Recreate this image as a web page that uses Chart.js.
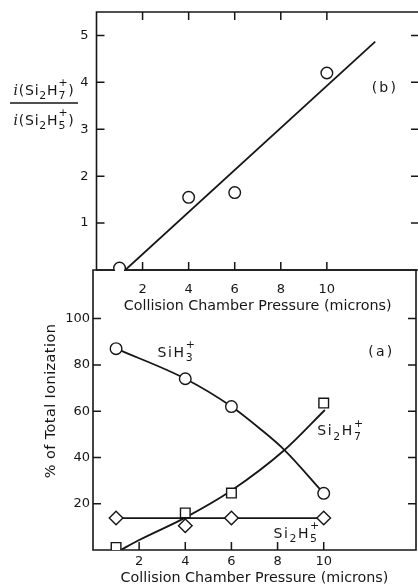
<!DOCTYPE html>
<html><head><meta charset="utf-8">
<script src="https://cdn.jsdelivr.net/npm/chart.js@4.4.0/dist/chart.umd.min.js"></script>
<style>
html,body{margin:0;padding:0;background:#fff;overflow:hidden;width:418px;height:588px;}
#wrap{position:relative;width:418px;height:588px;overflow:hidden;background:#fff;}
canvas{position:absolute;left:0;}
#cA{top:260px;}
#cB{top:0;}
</style></head><body>
<div id="wrap">
<canvas id="cA" width="432" height="328"></canvas>
<canvas id="cB" width="432" height="318"></canvas>
</div>
<script>
// ---------- data: panel (b) ----------
const pressureB = [1, 4, 6, 10];
const ratioB = [0.04, 1.55, 1.65, 4.2];
const fitLineX = [1.25, 12.1];
const fitLineY = [0, 4.87];
const yTickLabelsB = [1, 2, 3, 4, 5];

// ---------- data: panel (a) ----------
const pressureA = [1, 4, 6, 10];
const siH3 = [87, 74, 62, 24.5];
const si2H7 = [1.1, 16, 24.6, 63.5];
const si2H5 = [13.8, 10.5, 13.8, 13.8];
const siH3CurveX = [1, 4, 6, 7.2, 8.3, 10];
const siH3CurveY = [87, 74, 62, 52.7, 43.2, 24.5];
const si2H7CurveX = [1.2, 2, 4, 6, 8.3, 10.05];
const si2H7CurveY = [0, 4.3, 14, 25.7, 43.2, 60.5];
const si2H5LineX = [1, 10];
const si2H5LineY = [13.8, 13.8];
const yTickLabelsA = [20, 40, 60, 80, 100];

const xTickLabels = [2, 4, 6, 8, 10];

const INK = '#161616';
const FONT = '"DejaVu Sans", sans-serif';

function pts(xs, ys) { return xs.map((x, i) => ({x: x, y: ys[i]})); }

// draws chemical formula like Si2H7+ with stacked sub/sup
function drawFormula(ctx, x, y, parts, fs, spacing) {
  let cx = x;
  for (const p of parts) {
    ctx.letterSpacing = spacing + 'px';
    ctx.font = (p.italic ? 'italic ' : '') + fs + 'px ' + (p.italic ? '"DejaVu Serif", serif' : FONT);
    ctx.fillText(p.t, cx, y);
    cx += ctx.measureText(p.t).width;
    if (p.sub || p.sup) {
      ctx.letterSpacing = '0px';
      ctx.font = (fs * 0.78) + 'px ' + FONT;
      let w = 0;
      if (p.sub) { ctx.fillText(p.sub, cx, y + fs * 0.32); w = ctx.measureText(p.sub).width; }
      if (p.sup) { ctx.fillText(p.sup, cx, y - fs * 0.62); w = Math.max(w, ctx.measureText(p.sup).width); }
      cx += w + spacing;
    }
  }
  ctx.letterSpacing = '0px';
  return cx - x;
}
function formulaWidth(ctx, parts, fs, spacing) {
  ctx.save(); ctx.globalAlpha = 0;
  const w = drawFormula(ctx, -1000, -1000, parts, fs, spacing);
  ctx.restore();
  return w;
}

// frame and inward tick marks
const frameTicks = {
  id: 'frameTicks',
  beforeDatasetsDraw(chart, args, o) {
    const {ctx, chartArea: a, scales} = chart;
    const x = scales.x, y = scales.y;
    const len = 8;
    ctx.save();
    ctx.strokeStyle = INK;
    ctx.lineWidth = 1.6;
    ctx.beginPath();
    ctx.rect(a.left, a.top, a.right - a.left, a.bottom - a.top);
    ctx.stroke();
    ctx.lineWidth = 1.5;
    ctx.beginPath();
    xTickLabels.forEach(v => {
      const px = x.getPixelForValue(v);
      ctx.moveTo(px, a.bottom); ctx.lineTo(px, a.bottom - len);
      if (chart.canvas.id === 'cB') { ctx.moveTo(px, a.top); ctx.lineTo(px, a.top + len); }
    });
    const yt = chart.canvas.id === 'cB' ? yTickLabelsB : yTickLabelsA;
    yt.forEach(v => {
      const py = y.getPixelForValue(v);
      ctx.moveTo(a.left, py); ctx.lineTo(a.left + len, py);
      ctx.moveTo(a.right, py); ctx.lineTo(a.right - len, py);
    });
    ctx.stroke();
    ctx.restore();
  }
};

// annotation labels
const annot = {
  id: 'annot',
  afterDraw(chart, args, o) {
    const {ctx, scales: {x, y}} = chart;
    ctx.save();
    ctx.fillStyle = INK;
    ctx.textBaseline = 'alphabetic';
    ctx.textAlign = 'left';
    for (const L of o.labels) {
      const px = x.getPixelForValue(L.x), py = y.getPixelForValue(L.y);
      if (L.center) {
        const w = formulaWidth(ctx, L.parts, L.fs, L.sp);
        drawFormula(ctx, px - w / 2, py, L.parts, L.fs, L.sp);
      } else {
        drawFormula(ctx, px, py, L.parts, L.fs, L.sp);
      }
    }
    if (o.fraction) {
      const f = o.fraction;
      const w1 = formulaWidth(ctx, f.num, 14, 0.8);
      const w2 = formulaWidth(ctx, f.den, 14, 0.8);
      drawFormula(ctx, f.cx - w1 / 2, f.numY, f.num, 14, 0.8);
      drawFormula(ctx, f.cx - w2 / 2, f.denY, f.den, 14, 0.8);
      ctx.strokeStyle = INK; ctx.lineWidth = 1.4;
      ctx.beginPath(); ctx.moveTo(f.x0, f.lineY); ctx.lineTo(f.x1, f.lineY); ctx.stroke();
    }
    if (o.ytitle) {
      const t = o.ytitle;
      ctx.translate(t.x, t.y);
      ctx.rotate(-Math.PI / 2);
      ctx.font = '14.5px ' + FONT;
      ctx.letterSpacing = '0.4px';
      ctx.textAlign = 'center';
      ctx.textBaseline = 'middle';
      ctx.fillText(t.text, 0, 0);
    }
    ctx.restore();
  }
};

const tickFont = {family: FONT, size: 13};
const titleFont = {family: FONT, size: 14.3};

// ---------- panel (a): bottom ----------
new Chart(document.getElementById('cA'), {
  type: 'scatter',
  data: {datasets: [
    {label: 'SiH3+', data: pts(pressureA, siH3), pointStyle: 'circle', pointRadius: 5.8,
     pointBackgroundColor: '#fff', pointBorderColor: INK, pointBorderWidth: 1.4, showLine: false},
    {label: 'Si2H7+', data: pts(pressureA, si2H7), pointStyle: 'rect', pointRadius: 6.8,
     pointBackgroundColor: '#fff', pointBorderColor: INK, pointBorderWidth: 1.4, showLine: false},
    {label: 'Si2H5+', data: pts(pressureA, si2H5), pointStyle: 'rectRot', pointRadius: 6.8,
     pointBackgroundColor: '#fff', pointBorderColor: INK, pointBorderWidth: 1.4, showLine: false},
    {label: 'SiH3+ curve', data: pts(siH3CurveX, siH3CurveY), showLine: true, pointRadius: 0,
     borderColor: INK, borderWidth: 1.8, cubicInterpolationMode: 'monotone'},
    {label: 'Si2H7+ curve', data: pts(si2H7CurveX, si2H7CurveY), showLine: true, pointRadius: 0,
     borderColor: INK, borderWidth: 1.8, cubicInterpolationMode: 'monotone'},
    {label: 'Si2H5+ line', data: pts(si2H5LineX, si2H5LineY), showLine: true, pointRadius: 0,
     borderColor: INK, borderWidth: 1.8}
  ]},
  options: {
    responsive: false, devicePixelRatio: 1, animation: false,
    layout: {padding: {top: 10, left: 0, right: 16, bottom: 0}},
    plugins: {
      legend: {display: false}, tooltip: {enabled: false},
      annot: {
        labels: [
          {x: 12.5, y: 84, parts: [{t: '(a)'}], fs: 14, sp: 2.2, center: true},
          {x: 2.8, y: 83.4, parts: [{t: 'SiH', sub: '3', sup: '+'}], fs: 14, sp: 1.6},
          {x: 9.72, y: 49.5, parts: [{t: 'Si', sub: '2'}, {t: 'H', sub: '7', sup: '+'}], fs: 14, sp: 1.6},
          {x: 7.82, y: 5.2, parts: [{t: 'Si', sub: '2'}, {t: 'H', sub: '5', sup: '+'}], fs: 14, sp: 1.6}
        ],
        ytitle: {x: 51, y: 141, text: '% of Total Ionization'}
      }
    },
    scales: {
      x: {type: 'linear', min: 0, max: 14,
        ticks: {stepSize: 2, autoSkip: false, maxRotation: 0, padding: 0, font: tickFont, color: INK,
          callback: v => xTickLabels.includes(v) ? String(v) : ''},
        grid: {display: false, drawTicks: true, tickLength: 4}, border: {display: false},
        title: {display: true, text: 'Collision Chamber Pressure (microns)', font: titleFont, color: INK,
          padding: {top: 0, bottom: 1}},
        afterFit(s) { s.height = 38; }
      },
      y: {type: 'linear', min: 0, max: 121,
        ticks: {stepSize: 20, padding: 0, font: tickFont, color: INK,
          callback: v => yTickLabelsA.includes(v) ? String(v) : ''},
        grid: {display: false, drawTicks: true, tickLength: 3}, border: {display: false},
        afterFit(s) { s.width = 93; }
      }
    }
  },
  plugins: [frameTicks, annot]
});

// ---------- panel (b): top ----------
new Chart(document.getElementById('cB'), {
  type: 'scatter',
  data: {datasets: [
    {label: 'ratio', data: pts(pressureB, ratioB), pointStyle: 'circle', pointRadius: 5.8,
     pointBackgroundColor: '#fff', pointBorderColor: INK, pointBorderWidth: 1.4, showLine: false, clip: 1},
    {label: 'fit', data: pts(fitLineX, fitLineY), showLine: true, pointRadius: 0,
     borderColor: INK, borderWidth: 1.8}
  ]},
  options: {
    responsive: false, devicePixelRatio: 1, animation: false,
    layout: {padding: {top: 12, left: 0, right: 13, bottom: 0}},
    plugins: {
      legend: {display: false}, tooltip: {enabled: false},
      annot: {
        labels: [
          {x: 12.52, y: 3.8, parts: [{t: '(b)'}], fs: 14, sp: 2.2, center: true}
        ],
        fraction: {
          cx: 44, numY: 95, denY: 125, lineY: 103, x0: 10, x1: 78,
          num: [{t: 'i', italic: true}, {t: '(Si', sub: '2'}, {t: 'H', sub: '7', sup: '+'}, {t: ')'}],
          den: [{t: 'i', italic: true}, {t: '(Si', sub: '2'}, {t: 'H', sub: '5', sup: '+'}, {t: ')'}]
        }
      }
    },
    scales: {
      x: {type: 'linear', min: 0, max: 14,
        ticks: {stepSize: 2, autoSkip: false, maxRotation: 0, padding: 0, font: tickFont, color: INK,
          callback: v => xTickLabels.includes(v) ? String(v) : ''},
        grid: {display: false, drawTicks: true, tickLength: 12}, border: {display: false},
        title: {display: true, text: 'Collision Chamber Pressure (microns)', font: titleFont, color: INK,
          padding: {top: 0, bottom: 3}},
        afterFit(s) { s.height = 48; }
      },
      y: {type: 'linear', min: 0, max: 5.5,
        ticks: {stepSize: 1, padding: 0, font: tickFont, color: INK,
          callback: v => yTickLabelsB.includes(v) ? String(v) : ''},
        grid: {display: false, drawTicks: true, tickLength: 8}, border: {display: false},
        afterFit(s) { s.width = 96.5; }
      }
    }
  },
  plugins: [frameTicks, annot]
});
</script>
</body></html>
